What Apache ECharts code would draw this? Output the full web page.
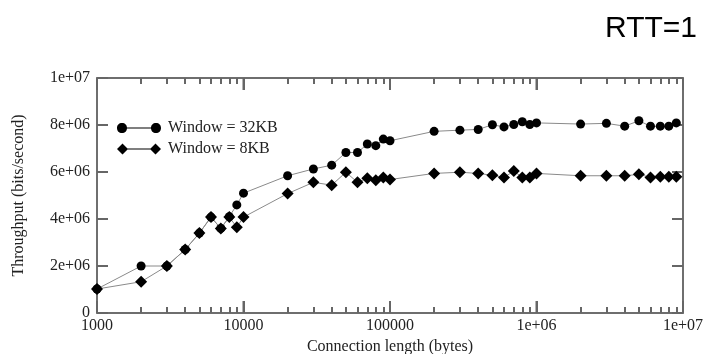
<!DOCTYPE html>
<html>
<head>
<meta charset="utf-8">
<script src="https://cdn.jsdelivr.net/npm/echarts@6/dist/echarts.min.js"></script>
<style>
  html, body { margin: 0; padding: 0; background: #fff; }
  #chart { width: 703px; height: 354px; }
</style>
</head>
<body>
<div id="chart"></div>
<script>
// connection length (bytes)
const lengths = [1000, 2000, 3000, 4000, 5000, 6000, 7000, 8000, 9000,
  10000, 20000, 30000, 40000, 50000, 60000, 70000, 80000, 90000,
  100000, 200000, 300000, 400000, 500000, 600000, 700000, 800000, 900000,
  1000000, 2000000, 3000000, 4000000, 5000000, 6000000, 7000000, 8000000, 9000000];

// throughput, millions of bits/second
const win32 = [1.02, 2.0, 2.0, 2.7, 3.4, 4.08, 3.6, 4.1, 4.6,
  5.1, 5.84, 6.13, 6.29, 6.83, 6.83, 7.19, 7.12, 7.4,
  7.33, 7.73, 7.78, 7.81, 8.01, 7.92, 8.02, 8.14, 8.02,
  8.09, 8.04, 8.07, 7.95, 8.18, 7.95, 7.95, 7.95, 8.09];
const win8 = [1.02, 1.33, 2.0, 2.7, 3.4, 4.08, 3.6, 4.08, 3.65,
  4.08, 5.08, 5.56, 5.44, 5.99, 5.56, 5.73, 5.65, 5.77,
  5.68, 5.94, 5.99, 5.94, 5.86, 5.77, 6.04, 5.77, 5.77,
  5.94, 5.84, 5.84, 5.84, 5.9, 5.77, 5.8, 5.8, 5.8];

const seriesNames = ['Window = 32KB', 'Window = 8KB'];
const majorTicks = [1000, 10000, 100000, 1000000, 10000000];

const serif = '"Liberation Serif", "DejaVu Serif", serif';
const frame = '#666';
const textCol = '#222';

function expLabel(v) {
  if (v === 0) return '0';
  return v.toExponential().replace(/e\+(\d)$/, 'e+0$1');
}

const pairOf = vals => lengths.map((x, i) => [x, vals[i] * 1e6]);

// legend glyphs: marker, line, marker
const circleIcon = 'path://M0,11C0,8 2,6 5,6C8,6 10,8 10,11C10,14 8,16 5,16C2,16 0,14 0,11Z' +
  'M5,10.4L39,10.4L39,11.6L5,11.6Z' +
  'M34,11C34,8 36,6 39,6C42,6 44,8 44,11C44,14 42,16 39,16C36,16 34,14 34,11Z' +
  'M0,0L0.01,0L0.01,0.01Z M0,22L0.01,22L0.01,21.99Z';
const diamondIcon = 'path://M5.5,5.5L11,11L5.5,16.5L0,11Z' +
  'M5,10.4L39,10.4L39,11.6L5,11.6Z' +
  'M38.5,5.5L44,11L38.5,16.5L33,11Z' +
  'M0,0L0.01,0L0.01,0.01Z M0,22L0.01,22L0.01,21.99Z';

const hiddenSplit = { show: true, lineStyle: { color: 'rgba(0,0,0,0)', width: 0 } };
const tickStyle = { color: frame, width: 2 };

const chart = echarts.init(document.getElementById('chart'));
chart.setOption({
  animation: false,
  title: {
    text: 'RTT=1', right: 1, top: 9,
    textStyle: { fontFamily: '"Liberation Sans", Arial, sans-serif', fontSize: 30, fontWeight: 'normal', color: '#000' }
  },
  grid: { left: 97, right: 20, top: 78, bottom: 41, outerBoundsMode: 'none', show: true,
    borderColor: frame, borderWidth: 1.5, backgroundColor: 'rgba(0,0,0,0)' },
  legend: {
    left: 117, top: 117, padding: 0, orient: 'vertical', itemWidth: 44, itemHeight: 22, itemGap: -1,
    data: [{ name: seriesNames[0], icon: circleIcon }, { name: seriesNames[1], icon: diamondIcon }],
    textStyle: { fontFamily: serif, fontSize: 16, color: textCol, padding: [0, 0, 0, 2] }
  },
  xAxis: [
    {
      type: 'log', logBase: 10, min: 1000, max: 10000000, position: 'bottom',
      name: 'Connection length (bytes)', nameLocation: 'middle', nameGap: 21,
      nameTextStyle: { fontFamily: serif, fontSize: 16, color: textCol },
      axisLine: { show: true, lineStyle: { color: frame, width: 1.5 } },
      axisTick: { show: true, inside: true, length: 12, lineStyle: tickStyle },
      minorTick: { show: true, splitNumber: 9, length: 6, lineStyle: tickStyle },
      axisLabel: { show: true, margin: 5, fontFamily: serif, fontSize: 16, color: textCol,
        formatter: v => v < 1e6 ? String(v) : expLabel(v) },
      splitLine: hiddenSplit
    },
    {
      type: 'log', logBase: 10, min: 1000, max: 10000000, position: 'top',
      axisLine: { show: true, onZero: false, lineStyle: { color: frame, width: 1.5 } },
      axisTick: { show: true, inside: true, length: 12, lineStyle: tickStyle },
      minorTick: { show: true, splitNumber: 9, length: 6, lineStyle: tickStyle },
      axisLabel: { show: false },
      splitLine: hiddenSplit
    }
  ],
  yAxis: [
    {
      type: 'value', min: 0, max: 10000000, interval: 2000000, position: 'left',
      name: 'Throughput (bits/second)', nameLocation: 'middle', nameGap: 70,
      nameTextStyle: { fontFamily: serif, fontSize: 16, color: textCol },
      axisLine: { show: true, lineStyle: { color: frame, width: 1.5 } },
      axisTick: { show: true, inside: true, length: 11, lineStyle: tickStyle },
      axisLabel: { margin: 7, fontFamily: serif, fontSize: 16, color: textCol, formatter: expLabel },
      splitLine: hiddenSplit
    },
    {
      type: 'value', min: 0, max: 10000000, interval: 2000000, position: 'right',
      axisLine: { show: true, lineStyle: { color: frame, width: 1.5 } },
      axisTick: { show: true, inside: true, length: 11, lineStyle: tickStyle },
      axisLabel: { show: false },
      splitLine: hiddenSplit
    }
  ],
  series: [
    {
      // decade ticks on the bottom and top edges
      type: 'custom', data: majorTicks.map(v => [v, 0]),
      renderItem: (params, api) => {
        const lo = api.coord([api.value(0), 0]);
        const hi = api.coord([api.value(0), 10000000]);
        return {
          type: 'group',
          children: [
            { type: 'line', shape: { x1: lo[0], y1: lo[1], x2: lo[0], y2: lo[1] - 12 },
              style: { stroke: frame, lineWidth: 2 } },
            { type: 'line', shape: { x1: hi[0], y1: hi[1], x2: hi[0], y2: hi[1] + 12 },
              style: { stroke: frame, lineWidth: 2 } }
          ]
        };
      }
    },
    {
      name: seriesNames[0], type: 'line', data: pairOf(win32),
      symbol: 'circle', symbolSize: 9,
      itemStyle: { color: '#000' },
      lineStyle: { color: '#8a8a8a', width: 1 }
    },
    {
      name: seriesNames[1], type: 'line', data: pairOf(win8),
      symbol: 'diamond', symbolSize: 12,
      itemStyle: { color: '#000' },
      lineStyle: { color: '#8a8a8a', width: 1 }
    }
  ]
});
</script>
</body>
</html>
